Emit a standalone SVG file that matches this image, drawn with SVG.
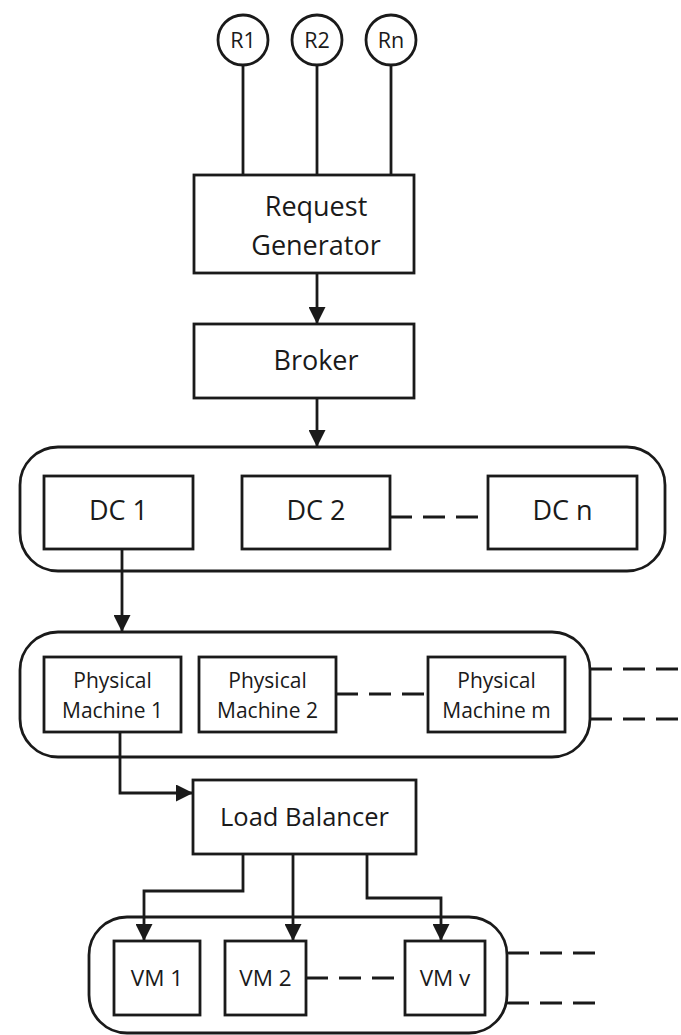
<svg xmlns="http://www.w3.org/2000/svg" width="681" height="1035" viewBox="0 0 681 1035">
  <defs>
    <marker id="arrow" viewBox="0 0 17 17" refX="17" refY="8.5" markerWidth="17" markerHeight="17" markerUnits="userSpaceOnUse" orient="auto">
      <path d="M0,0 L17,8.5 L0,17 Z" fill="#1a1a1a"/>
    </marker>
    <style>
      .box { fill: #ffffff; stroke: #1a1a1a; stroke-width: 2.8; }
      .group { fill: none; stroke: #1a1a1a; stroke-width: 2.8; }
      .line { fill: none; stroke: #1a1a1a; stroke-width: 2.8; }
      .dash { fill: none; stroke: #1a1a1a; stroke-width: 2.8; stroke-dasharray: 22 11; }
      .arrow { fill: none; stroke: #1a1a1a; stroke-width: 2.8; marker-end: url(#arrow); }
      text { font-family: "Open Sans", "Liberation Sans", sans-serif; fill: #1a1a1a; text-anchor: middle; }
      .xl { font-size: 27px; }
      .lb { font-size: 25.5px; }
      .vm { font-size: 22.5px; }
      .pm { font-size: 21px; }
      .rq { font-size: 21.5px; }
    </style>
  </defs>

  <rect width="681" height="1035" fill="#ffffff"/>

  <!-- connectors -->
  <g id="connectors">
    <line class="line" x1="243" y1="65" x2="243" y2="175"/>
    <line class="line" x1="317" y1="65" x2="317" y2="175"/>
    <line class="line" x1="391" y1="65" x2="391" y2="175"/>
    <line class="arrow" x1="317" y1="273" x2="317" y2="324"/>
    <line class="arrow" x1="317" y1="398" x2="317" y2="447"/>
    <line class="dash" x1="390" y1="517" x2="488" y2="517"/>
    <line class="arrow" x1="122" y1="549" x2="122" y2="632"/>
    <line class="dash" x1="336" y1="694" x2="428" y2="694"/>
    <line class="dash" x1="590" y1="669" x2="681" y2="669"/>
    <line class="dash" x1="590" y1="719" x2="681" y2="719"/>
    <polyline class="arrow" points="120,731 120,793 193,793"/>
    <polyline class="arrow" points="243,854 243,891 144,891 144,941"/>
    <line class="arrow" x1="293" y1="854" x2="293" y2="941"/>
    <polyline class="arrow" points="367,854 367,898 441,898 441,941"/>
    <line class="dash" x1="306" y1="978" x2="405" y2="978"/>
    <line class="dash" x1="507" y1="953" x2="597" y2="953"/>
    <line class="dash" x1="507" y1="1003" x2="597" y2="1003"/>
  </g>

  <!-- request sources -->
  <g id="r1"><circle class="box" cx="243" cy="40" r="25"/><text class="rq" x="243" y="48">R1</text></g>
  <g id="r2"><circle class="box" cx="317" cy="40" r="25"/><text class="rq" x="317" y="48">R2</text></g>
  <g id="rn"><circle class="box" cx="391" cy="40" r="25"/><text class="rq" x="391" y="48">Rn</text></g>

  <g id="request-generator">
    <rect class="box" x="194" y="175" width="220" height="98"/>
    <text class="xl" x="316" y="216">Request</text>
    <text class="xl" x="316" y="255">Generator</text>
  </g>

  <g id="broker">
    <rect class="box" x="194" y="324" width="220" height="74"/>
    <text class="xl" x="316" y="370">Broker</text>
  </g>

  <!-- data centres -->
  <g id="dc-group"><rect class="group" x="20" y="447" width="645" height="124" rx="38"/></g>
  <g id="dc1"><rect class="box" x="44" y="476" width="149" height="73"/><text class="xl" x="118.5" y="520">DC 1</text></g>
  <g id="dc2"><rect class="box" x="242" y="476" width="148" height="73"/><text class="xl" x="316" y="520">DC 2</text></g>
  <g id="dcn"><rect class="box" x="488" y="476" width="149" height="73"/><text class="xl" x="562.5" y="520">DC n</text></g>

  <!-- physical machines -->
  <g id="pm-group"><rect class="group" x="20" y="632" width="570" height="125" rx="38"/></g>
  <g id="pm1"><rect class="box" x="44" y="657" width="137" height="75"/><text class="pm" x="112.5" y="688">Physical</text><text class="pm" x="112.5" y="718">Machine 1</text></g>
  <g id="pm2"><rect class="box" x="199" y="657" width="137" height="75"/><text class="pm" x="267.5" y="688">Physical</text><text class="pm" x="267.5" y="718">Machine 2</text></g>
  <g id="pmm"><rect class="box" x="428" y="657" width="137" height="75"/><text class="pm" x="496.5" y="688">Physical</text><text class="pm" x="496.5" y="718">Machine m</text></g>

  <g id="load-balancer">
    <rect class="box" x="193" y="780" width="223" height="74"/>
    <text class="lb" x="304.5" y="826">Load Balancer</text>
  </g>

  <!-- virtual machines -->
  <g id="vm-group"><rect class="group" x="89" y="917" width="418" height="116" rx="38"/></g>
  <g id="vm1"><rect class="box" x="114" y="941" width="86" height="74"/><text class="vm" x="157" y="986">VM 1</text></g>
  <g id="vm2"><rect class="box" x="225" y="941" width="81" height="74"/><text class="vm" x="265.5" y="986">VM 2</text></g>
  <g id="vmv"><rect class="box" x="405" y="941" width="80" height="74"/><text class="vm" x="445" y="986">VM v</text></g>
</svg>
